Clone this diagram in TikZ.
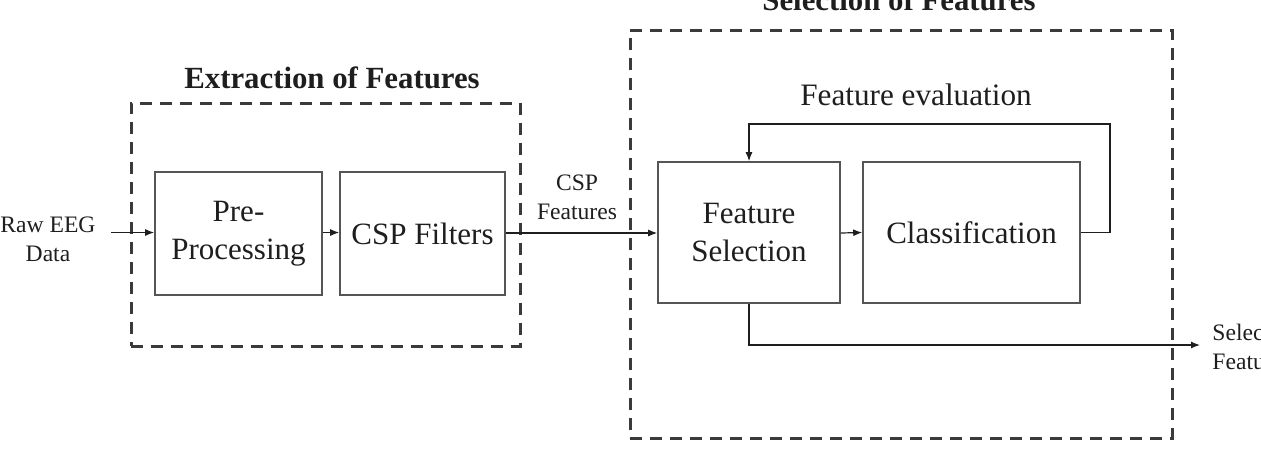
\documentclass[tikz,border=0pt]{standalone}
\usepackage{fontspec}
\setmainfont{Liberation Serif}
\usetikzlibrary{arrows.meta}
\definecolor{linegray}{HTML}{555555}
\definecolor{dashgray}{HTML}{3A3A3A}
\definecolor{txt}{HTML}{1E1E1E}
\tikzset{
  blockbox/.style={draw=linegray, line width=0.8pt, inner sep=0pt, align=center,
    text=txt, font=\fontsize{15.5}{19}\selectfont},
  groupbox/.style={draw=dashgray, line width=1.5pt, dash pattern=on 6pt off 4pt, inner sep=0pt},
  grouptitle/.style={text=txt, font=\fontsize{15.4}{18}\selectfont\bfseries, anchor=base, inner sep=0pt},
  smalltext/.style={text=txt, font=\fontsize{11.8}{14.5}\selectfont, align=center, inner sep=0pt},
  flow/.style={draw=txt, line width=0.6pt, -{Latex[length=4.5pt,width=3.5pt]}},
}
\begin{document}
\begin{tikzpicture}[x=0.5pt,y=-0.5pt]
\useasboundingbox (0,0) rectangle (1261,451);
% group boxes
\node[groupbox, minimum width=194.5pt, minimum height=121.5pt] (ext) at (325.5,224.5) {};
\node[groupbox, minimum width=271pt, minimum height=204pt] (sel) at (901,234) {};
\node[grouptitle] (exttitle) at (332,88) {Extraction of Features};
\node[grouptitle] (seltitle) at (899,10) {Selection of Features};
% blocks
\node[blockbox, minimum width=83.5pt, minimum height=61.5pt] (pre) at (238.5,233.5) {Pre-\\Processing};
\node[blockbox, minimum width=82.5pt, minimum height=61.5pt] (csp) at (422.5,233.5) {CSP Filters};
\node[blockbox, minimum width=91pt, minimum height=70.5pt] (fs) at (749,232.5) {Feature\\Selection};
\node[blockbox, minimum width=108.5pt, minimum height=70.5pt] (cls) at (971.5,232.5) {Classification};
% labels
\node[smalltext] (raw) at (48,239) {Raw EEG\\Data};
\coordinate (rawend) at (111,232.5);
\node[smalltext] (cspf) at (577,197) {CSP\\Features};
\node[smalltext, anchor=west, align=left] (out) at (1212,347) {Selected\\Features};
\node[text=txt, font=\fontsize{15.6}{18}\selectfont, anchor=base, inner sep=0pt] (evl) at (916,105) {Feature evaluation};
% connectors
\coordinate (fbr) at (1110,124);
\coordinate (outc) at (749,345);
\coordinate (outend) at (1200,345);
\draw[flow] (rawend) -- (pre.west |- rawend);
\draw[flow] (pre.east |- 0,232.5) -- (csp.west |- 0,232.5);
\draw[flow] (csp.east |- 0,233) -- (fs.west |- 0,233);
\draw[flow] (fs.east |- 0,233) -- (cls.east -| cls.west |- 0,233);
\draw[flow] (cls.east) -- (cls.east -| fbr) -- (fbr) -- (fbr -| fs.north) -- (fs.north);
\draw[flow] (fs.south) -- (outc) -- (outend);
\end{tikzpicture}
\end{document}
